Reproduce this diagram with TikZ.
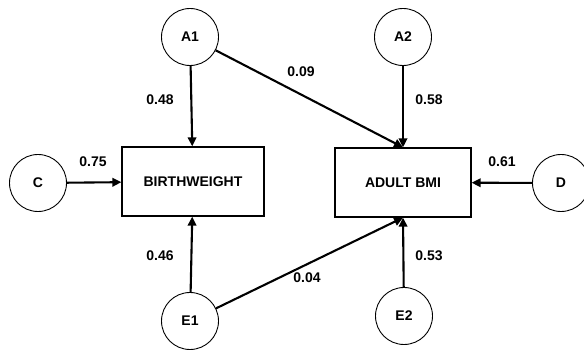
\documentclass[tikz,border=0pt]{standalone}
\usepackage{fontspec}
\setmainfont{Liberation Sans}
\usepackage{xcolor}
\usetikzlibrary{arrows.meta}

\begin{document}
\begin{tikzpicture}[
    x = 1pt, y = -1pt,
    font = \bfseries\fontsize{14}{16}\selectfont,
    factor/.style = {draw, circle, line width=0.9pt, minimum size=57pt, inner sep=0pt},
    trait/.style = {draw, rectangle, line width=1.3pt, minimum width=142pt, minimum height=69pt, inner sep=0pt},
    coef/.style = {inner sep=0pt},
    path/.style = {-{Triangle[length=9pt, width=8.5pt]}, line width=2.1pt}
  ]
    \useasboundingbox (0,0) rectangle (584,352);
    \node[trait] (bw)  at (193,181.5) {BIRTHWEIGHT};  % outcome 1
    \node[trait, minimum width=136pt] (bmi) at (403,182.5) {ADULT BMI};  % outcome 2
    \node[factor] (a1) at (190,37)  {A1};
    \node[factor] (a2) at (403,37)  {A2};
    \node[factor] (c)  at (38,183)  {C};
    \node[factor] (d)  at (561,183) {D};  % cut by the right edge
    \node[factor] (e1) at (190,321) {E1};
    \node[factor] (e2) at (404,316) {E2};

    \draw[path] (a1) -- (bw);
    \draw[path] (a1) -- (bmi.north);
    \draw[path] (a2) -- (bmi.north);
    \draw[path] (c)  -- (bw);
    \draw[path] (d)  -- (bmi);
    \draw[path] (e1) -- (bw);
    \draw[path] (e1) -- (bmi.south);
    \draw[path] (e2) -- (bmi.south);

    \node[coef] (k48) at (160,100) {0.48};
    \node[coef] (k09) at (301,72)  {0.09};
    \node[coef] (k58) at (429,100) {0.58};
    \node[coef] (k75) at (93,162)  {0.75};
    \node[coef] (k61) at (502,162) {0.61};
    \node[coef] (k46) at (160,256) {0.46};
    \node[coef] (k04) at (307,278) {0.04};
    \node[coef] (k53) at (429,256) {0.53};
\end{tikzpicture}
\end{document}
